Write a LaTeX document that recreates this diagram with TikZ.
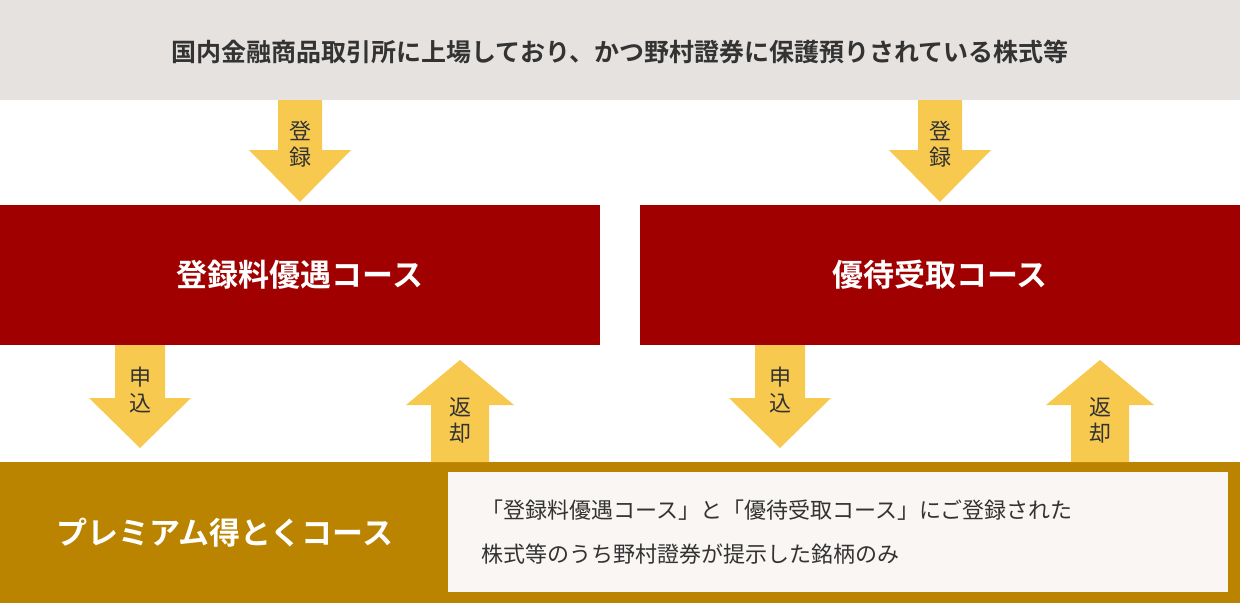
\documentclass[tikz,border=0pt]{standalone}
\usepackage{fontspec}
\newfontfamily\cjk{Noto Sans CJK JP}
\newfontfamily\cjkb{Noto Sans CJK JP Bold}
\definecolor{topgray}{HTML}{E6E2DF}
\definecolor{darkred}{HTML}{A00000}
\definecolor{gold}{HTML}{BA8300}
\definecolor{arrowy}{HTML}{F7C94F}
\definecolor{txt}{HTML}{333333}
\definecolor{boxbg}{HTML}{F9F6F3}
\tikzset{
 band/.style={draw=none,inner sep=0pt},
 arrtxt/.style={font=\cjk\fontsize{22}{26}\selectfont,text=txt,align=center},
 hd/.style={font=\cjkb\fontsize{31}{36}\selectfont,text=white},
}
\newcommand{\downarr}[3]{% cx, ytop, name
 \fill[arrowy] (#1-22,#2) -- (#1+22,#2) -- (#1+22,#2+50) -- (#1+51,#2+50) -- (#1,#2+102) -- (#1-51,#2+50) -- (#1-22,#2+50) -- cycle;}
\begin{document}
\begin{tikzpicture}[x=1pt,y=-1pt]
\useasboundingbox (0,0) rectangle (1240,603);
\fill[topgray] (0,0) rectangle (1240,100);
\node[font=\cjkb\fontsize{25}{30}\selectfont,text=txt] (top) at (620,52) {国内金融商品取引所に上場しており、かつ野村證券に保護預りされている株式等};
\fill[darkred] (0,205) rectangle (600,345);
\fill[darkred] (640,205) rectangle (1240,345);
\node[hd] (c1) at (300,275) {登録料優遇コース};
\node[hd] (c2) at (940,275) {優待受取コース};
\fill[gold] (0,462) rectangle (1240,603);
\node[hd] (c3) at (225,533) {プレミアム得とくコース};
\fill[boxbg] (448,472) rectangle (1228,592);
\node[font=\cjk\fontsize{22}{44}\selectfont,text=txt,align=left,anchor=west] (note) at (478,532) {「登録料優遇コース」と「優待受取コース」にご登録された\\株式等のうち野村證券が提示した銘柄のみ};
% register arrows
\fill[arrowy] (278,100) -- (322,100) -- (322,150) -- (351,150) -- (300,202) -- (249,150) -- (278,150) -- cycle;
\node[arrtxt] (r1) at (300,144) {登\\録};
\fill[arrowy] (918,100) -- (962,100) -- (962,150) -- (991,150) -- (940,202) -- (889,150) -- (918,150) -- cycle;
\node[arrtxt] (r2) at (940,144) {登\\録};
% apply arrows
\fill[arrowy] (115,345) -- (165,345) -- (165,398) -- (191,398) -- (140,448) -- (89,398) -- (115,398) -- cycle;
\node[arrtxt] (a1) at (140,390) {申\\込};
\fill[arrowy] (755,345) -- (805,345) -- (805,398) -- (831,398) -- (780,448) -- (729,398) -- (755,398) -- cycle;
\node[arrtxt] (a2) at (780,390) {申\\込};
% return arrows
\fill[arrowy] (431,462) -- (489,462) -- (489,405) -- (514,405) -- (460,360) -- (406,405) -- (431,405) -- cycle;
\node[arrtxt] (b1) at (460,420) {返\\却};
\fill[arrowy] (1071,462) -- (1129,462) -- (1129,405) -- (1154,405) -- (1100,360) -- (1046,405) -- (1071,405) -- cycle;
\node[arrtxt] (b2) at (1100,420) {返\\却};
\end{tikzpicture}
\end{document}
